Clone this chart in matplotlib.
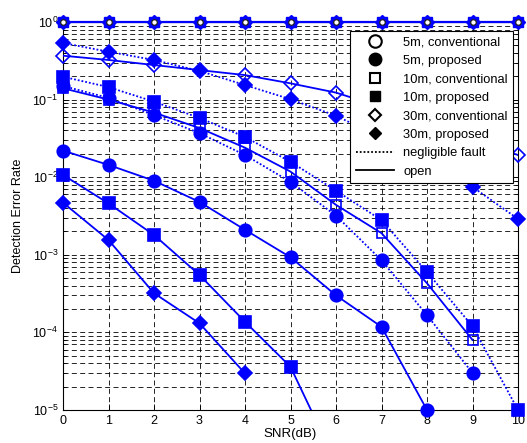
import matplotlib
matplotlib.use('Agg')
import matplotlib.pyplot as plt
import numpy as np
from matplotlib.lines import Line2D

plt.rcParams['font.family'] = ['Liberation Sans', 'DejaVu Sans']
plt.rcParams['mathtext.fontset'] = 'custom'
plt.rcParams['mathtext.rm'] = 'Liberation Sans'
plt.rcParams['mathtext.it'] = 'Liberation Sans'

# SNR axis
snr = np.arange(0, 11)
nan = np.nan

# conventional method, curves stuck at 1
conv_5m_negl = [1, 1, 1, 1, 1, 1, 1, 1, 1, 1, 1]
conv_5m_open = [1, 1, 1, 1, 1, 1, 1, 1, 1, 1, 1]
conv_10m_negl = [1, 1, 1, 1, 1, 1, 1, 1, 1, 1, 1]
conv_30m_negl = [1, 1, 1, 1, 1, 1, 1, 1, 1, 1, 1]

# remaining curves
conv_10m_open = [0.14, 0.1, 0.068, 0.043, 0.024, 0.0118, 0.0044, 0.0019, 0.00043, 0.00008, nan]
conv_30m_open = [0.368, 0.324, 0.279, 0.24, 0.207, 0.162, 0.123, 0.08, 0.05, 0.031, 0.0193]
prop_5m_negl = [0.15, 0.105, 0.063, 0.037, 0.0193, 0.0087, 0.0032, 0.00085, 0.000167, 0.00003, nan]
prop_5m_open = [0.022, 0.0144, 0.009, 0.0048, 0.0021, 0.00093, 0.0003, 0.000118, 1e-5, nan, nan]
prop_10m_negl = [0.197, 0.145, 0.094, 0.058, 0.033, 0.0158, 0.0067, 0.0028, 0.0006, 0.00012, 1e-5]
prop_10m_open = [0.0107, 0.0046, 0.0018, 0.00055, 0.000137, 0.000036, 2.1e-6, nan, nan, nan, nan]
prop_30m_negl = [0.536, 0.414, 0.324, 0.234, 0.154, 0.101, 0.062, 0.032, 0.016, 0.0075, 0.0029]
prop_30m_open = [0.0047, 0.00155, 0.00032, 0.000131, 0.0000296, nan, nan, nan, nan, nan, nan]

blue = '#0000ff'
ymin, ymax = 1e-5, 1

fig = plt.figure(figsize=(5.27, 4.43), dpi=100)
ax = fig.add_axes([63/527, 1-410/443, (518-63)/527, (410-22)/443])


def draw(vals, ls, marker, filled, ms, mew=1.2):
  v = np.array(vals, dtype=float)
  ax.plot(snr, v, color=blue, ls=ls, lw=1.3, zorder=3)
  keep = v >= ymin * 0.999
  fc = blue if filled else 'none'
  ax.plot(snr[keep], v[keep], ls='none', marker=marker, ms=ms,
          mfc=fc, mec=blue, mew=mew, clip_on=False, zorder=4)


dot = (0, (1, 1.1))

# curves at 1
ax.plot(snr, conv_5m_open, color=blue, lw=1.6, zorder=3, clip_on=False)
ax.plot(snr, conv_5m_negl, color=blue, ls=dot, lw=1.3, zorder=3, clip_on=False)
ax.plot(snr, conv_10m_negl, ls='none', marker='s', ms=7.5, mfc=blue, mec=blue, clip_on=False, zorder=4)
ax.plot(snr, conv_30m_negl, ls='none', marker='D', ms=7.5, mfc=blue, mec=blue, clip_on=False, zorder=4)
ax.plot(snr, conv_5m_open, ls='none', marker='o', ms=4, mfc='white', mec='#202020', mew=0.9, clip_on=False, zorder=5)

draw(conv_10m_open, '-', 's', False, 7.5)
draw(conv_30m_open, '-', 'D', False, 7)
draw(prop_5m_negl, dot, 'o', True, 9)
draw(prop_5m_open, '-', 'o', True, 9)
draw(prop_10m_negl, dot, 's', True, 8)
draw(prop_10m_open, '-', 's', True, 8)
draw(prop_30m_negl, dot, 'D', True, 7.5)
draw(prop_30m_open, '-', 'D', True, 7.5)

ax.set_yscale('log')
ax.set_xlim(0, 10)
ax.set_ylim(ymin, ymax)
ax.set_xticks(snr)
ax.set_yticks([1e-5, 1e-4, 1e-3, 1e-2, 1e-1, 1e0])
ax.set_yticklabels([r'$10^{-5}$', r'$10^{-4}$', r'$10^{-3}$', r'$10^{-2}$', r'$10^{-1}$', r'$10^{0}$'])
ax.tick_params(which='both', direction='in', top=True, right=True, labelsize=9, width=0.6)
ax.tick_params(which='major', length=4)
ax.tick_params(which='minor', length=2)
ax.grid(True, which='major', color='black', ls=(0, (6, 4)), lw=0.6)
ax.grid(True, which='minor', axis='y', color='black', ls=(0, (6, 4)), lw=0.6)
for s in ax.spines.values():
  s.set_linewidth(0.8)

ax.set_xlabel('SNR(dB)', fontsize=9.5, labelpad=1)
ax.set_ylabel('Detection Error Rate', fontsize=9, labelpad=6)

handles = [
  Line2D([], [], ls='none', marker='o', ms=9, mfc='white', mec='black', mew=1.5),
  Line2D([], [], ls='none', marker='o', ms=9, mfc='black', mec='black'),
  Line2D([], [], ls='none', marker='s', ms=7, mfc='white', mec='black', mew=1.5),
  Line2D([], [], ls='none', marker='s', ms=7, mfc='black', mec='black'),
  Line2D([], [], ls='none', marker='D', ms=6, mfc='white', mec='black', mew=1.5),
  Line2D([], [], ls='none', marker='D', ms=6, mfc='black', mec='black'),
  Line2D([], [], color='black', ls=dot, lw=1.3),
  Line2D([], [], color='black', ls='-', lw=1.3),
]
labels = ['5m, conventional', '5m, proposed', '10m, conventional', '10m, proposed',
          '30m, conventional', '30m, proposed', 'negligible fault', 'open']
leg = ax.legend(handles, labels, loc='upper right', bbox_to_anchor=(513/527, 1-31/443),
                bbox_transform=fig.transFigure, fontsize=9.3, frameon=True, fancybox=False,
                edgecolor='black', framealpha=1, borderpad=0.4, labelspacing=0.5,
                handlelength=3.0, handletextpad=0.7, borderaxespad=0)
leg.get_frame().set_linewidth(0.8)
leg.set_zorder(10)

fig.savefig('out.png', dpi=100)
